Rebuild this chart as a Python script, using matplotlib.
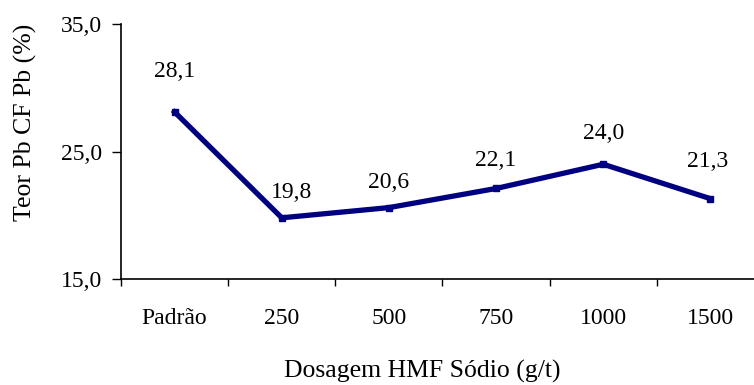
import matplotlib
matplotlib.use("Agg")
import matplotlib.pyplot as plt
from matplotlib.ticker import FixedLocator, FuncFormatter

categories = ["Padrão", "250", "500", "750", "1000", "1500"]
values = [28.1, 19.8, 20.6, 22.1, 24.0, 21.3]
y_ticks = [15.0, 25.0, 35.0]
# label offsets (points) relative to each data point: (dx, dy)
label_offsets = [(0, 29), (7, 18), (0, 18), (0, 20), (0, 22), (-2, 27)]

plt.rcParams['font.family'] = ['Liberation Serif', 'DejaVu Serif']
FS = 17
FS_T = 18.5

fig = plt.figure(figsize=(7.54, 3.85), dpi=100)
ax = fig.add_axes([121/754, (385-279)/385, (764-121)/754, 255/385])

x = list(range(len(categories)))
ax.plot(x, values, color='#000080', lw=3.8, marker='s', ms=5,
        solid_joinstyle='miter', clip_on=False)

for xi, v, (dx, dy) in zip(x, values, label_offsets):
    ax.annotate(f"{v:.1f}".replace('.', ','), (xi, v), xytext=(dx, dy),
                textcoords='offset points', ha='center', va='center',
                fontsize=FS, color='black')

ax.set_xlim(-0.5, len(categories) - 0.5)
ax.set_ylim(15, 35)
ax.set_yticks(y_ticks)
ax.yaxis.set_major_formatter(FuncFormatter(lambda v, p: f"{v:.1f}".replace('.', ',')))
ax.tick_params(axis='y', length=6.5, width=1, pad=7, labelsize=FS, direction='out')

ax.set_xticks(x)
ax.set_xticklabels(categories)
ax.xaxis.set_minor_locator(FixedLocator([i + 0.5 for i in range(-1, len(categories))]))
ax.tick_params(axis='x', which='major', length=0, pad=21, labelsize=FS)
ax.tick_params(axis='x', which='minor', length=5, width=1, direction='out')

for s in ['top', 'right']:
    ax.spines[s].set_visible(False)
for s in ['left', 'bottom']:
    ax.spines[s].set_linewidth(1.2)

fig.text(25/754, 1 - 122/385, "Teor Pb CF Pb (%)", rotation=90,
         ha='center', va='center', fontsize=FS_T)
fig.text(422/754, 1 - 371/385, "Dosagem HMF Sódio (g/t)",
         ha='center', va='center', fontsize=FS_T)

fig.savefig("out.png", dpi=100)
